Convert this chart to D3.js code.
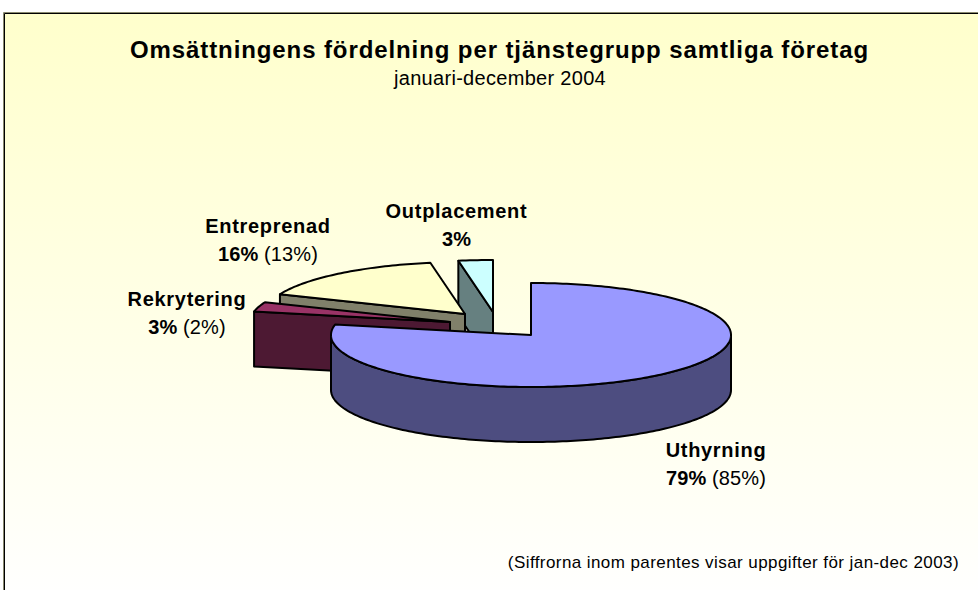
<!DOCTYPE html>
<html><head><meta charset="utf-8">
<script src="https://cdn.jsdelivr.net/npm/d3@7"></script>
<style>html,body{margin:0;padding:0;background:#fff}svg{display:block}text{font-family:"Liberation Sans",Arial,sans-serif;fill:#000}</style>
</head><body><svg id="c" width="978" height="590"></svg>
<script>
const categories = ["Uthyrning","Rekrytering","Entreprenad","Outplacement"];
const values = [79,3,16.2,2.8];
const priorLabels = ["(85%)","(2%)","(13%)",""];
const topColors = ["#9999FF","#993366","#FFFFCC","#CCFFFF"];
const sideColors = ["#4D4D80","#4D1933","#80806A","#668080"];
const svg=d3.select("#c");
const defs=svg.append("defs");
const g=defs.append("linearGradient").attr("id","bg").attr("x1",0).attr("x2",0).attr("y1",0).attr("y2",1);
g.append("stop").attr("offset",0).attr("stop-color","#FFFFCC");
g.append("stop").attr("offset",1).attr("stop-color","#FFFFFF");
svg.append("rect").attr("x",4).attr("y",13).attr("width",980).attr("height",590).attr("fill","url(#bg)");
svg.append("path").attr("d",d3.line()([[3.5,600],[3.5,12.5],[980,12.5]])).attr("fill","none").attr("stroke","#8a8a70").attr("stroke-width",1);
svg.append("path").attr("d",d3.line()([[4.5,600],[4.5,13.5],[980,13.5]])).attr("fill","none").attr("stroke","#000").attr("stroke-width",1);

const cx=531,cy=335,rx=200,ry=52,depth=55;
// explosion of each slice, as pixel offset of its apex
const dx=[0,-81,-66,-38],dy=[0,-13,-21,-23];
const pie=d3.pie().sort(null).value(d=>d)(values);
const xS=d3.scaleLinear().domain([-1,1]).range([-rx,rx]);
const yS=d3.scaleLinear().domain([-1,1]).range([-ry,ry]);
const pt=(a,ox,oy,z=0)=>[ox+xS(Math.sin(a)),oy+yS(-Math.cos(a))+z];
const line=d3.line();
const seq=(a0,a1)=>{const n=Math.max(2,Math.ceil(Math.abs(a1-a0)/0.02));return d3.range(n+1).map(i=>a0+(a1-a0)*i/n)};
const layer=svg.append("g").attr("stroke","#000").attr("stroke-width",2).attr("stroke-linejoin","round");
[3,2,1,0].forEach(i=>{
  const p=pie[i],ox=cx+dx[i],oy=cy+dy[i];
  const a0=p.startAngle,a1=p.endAngle;
  if(i===0){
    const arc=seq(Math.PI/2,Math.PI*1.5);
    const wall=arc.map(a=>pt(a,ox,oy)).concat(arc.slice().reverse().map(a=>pt(a,ox,oy,depth)));
    layer.append("path").attr("d",line(wall)+"Z").attr("fill",sideColors[i]);
  } else {
    const o=pt(a0,ox,oy);
    const face=[o,[ox,oy],[ox,oy+depth],[o[0],o[1]+depth]];
    layer.append("path").attr("d",line(face)+"Z").attr("fill",sideColors[i]);
  }
  const top=[[ox,oy]].concat(seq(a0,a1).map(a=>pt(a,ox,oy)));
  layer.append("path").attr("d",line(top)+"Z").attr("fill",topColors[i]);
});

const size=20;
const labelX=[716,187,268,456.5],labelY=[457,306,233,218];
categories.forEach((c,i)=>{
  svg.append("text").attr("text-anchor","middle").attr("font-size",size).attr("letter-spacing",0.7).attr("x",labelX[i]).attr("y",labelY[i]).attr("font-weight","bold").text(c);
  const t2=svg.append("text").attr("text-anchor","middle").attr("font-size",size).attr("letter-spacing",0.1).attr("x",labelX[i]).attr("y",labelY[i]+27.5);
  t2.append("tspan").attr("font-weight","bold").text(Math.round(values[i])+"%");
  if(priorLabels[i]) t2.append("tspan").text(" "+priorLabels[i]);
});
svg.append("text").attr("x",499.5).attr("y",58).attr("text-anchor","middle").attr("font-size",24).attr("letter-spacing",0.9).attr("font-weight","bold").text("Omsättningens fördelning per tjänstegrupp samtliga företag");
svg.append("text").attr("x",500).attr("y",85).attr("text-anchor","middle").attr("font-size",20).attr("letter-spacing",0.3).text("januari-december 2004");
svg.append("text").attr("x",959).attr("y",568).attr("text-anchor","end").attr("font-size",17).attr("letter-spacing",0.42).text("(Siffrorna inom parentes visar uppgifter för jan-dec 2003)");
</script></body></html>
